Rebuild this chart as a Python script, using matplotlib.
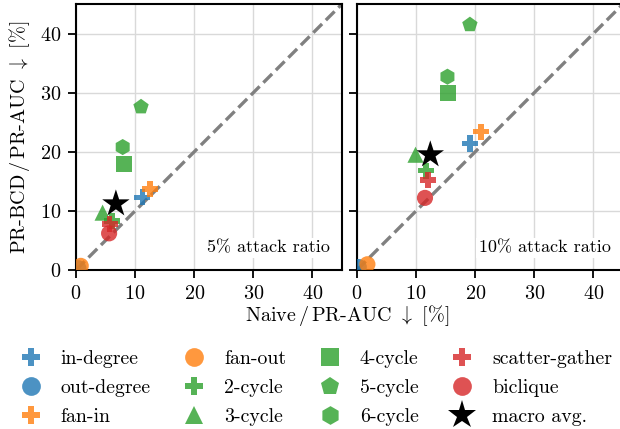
import matplotlib
matplotlib.use("Agg")
import matplotlib.pyplot as plt
from matplotlib.lines import Line2D

plt.rcParams['font.family'] = ['cmr10', 'DejaVu Serif']
plt.rcParams['mathtext.fontset'] = 'cm'
plt.rcParams['axes.formatter.use_mathtext'] = True

# ---- data ----
patterns = ["in-degree", "out-degree", "fan-in", "fan-out", "2-cycle", "3-cycle",
            "4-cycle", "5-cycle", "6-cycle", "scatter-gather", "biclique"]
markers = ["P", "o", "P", "o", "P", "^", "s", "p", "h", "P", "o"]
colors = ["tab:blue", "tab:blue", "tab:orange", "tab:orange", "tab:green", "tab:green",
          "tab:green", "tab:green", "tab:green", "tab:red", "tab:red"]

# 5% attack ratio
naive_5 = [11.2, 0.4, 12.5, 0.8, 6.1, 4.5, 8.05, 11.0, 7.9, 5.7, 5.6]
prbcd_5 = [12.3, 0.3, 13.7, 0.7, 8.3, 9.7, 17.9, 27.6, 20.8, 7.8, 6.2]
macro_5 = (6.75, 11.2)

# 10% attack ratio
naive_10 = [19.1, 0.3, 21.0, 1.76, 11.7, 9.9, 15.4, 19.1, 15.3, 12.0, 11.5]
prbcd_10 = [21.4, 0.5, 23.4, 0.97, 16.8, 19.5, 29.9, 41.5, 32.7, 15.2, 12.2]
macro_10 = (12.4, 19.5)

ticks = [0, 10, 20, 30, 40]
panel_labels = ["5% attack ratio", "10% attack ratio"]

# ---- figure ----
W, H = 620, 429
fig = plt.figure(figsize=(W / 100, H / 100), dpi=100)
ax_w = (342 - 76) / W
ax_h = (270 - 4) / H
ax_b = 1 - 270 / H
ax1 = fig.add_axes([76 / W, ax_b, ax_w, ax_h])
ax2 = fig.add_axes([357 / W, ax_b, ax_w, ax_h])

panels = [(ax1, naive_5, prbcd_5, macro_5), (ax2, naive_10, prbcd_10, macro_10)]
for i, (ax, xs, ys, mac) in enumerate(panels):
    ax.set_xlim(0, 45)
    ax.set_ylim(0, 45)
    ax.set_xticks(ticks)
    ax.set_yticks(ticks)
    ax.grid(True, color='#d9d9d9', lw=1.0, zorder=0)
    ax.set_axisbelow(True)
    ax.plot([0, 45], [0, 45], ls='--', color='#808080', lw=2.4, zorder=1.5)
    for x, y, m, c in zip(xs, ys, markers, colors):
        ax.scatter([x], [y], marker=m, color=c, alpha=0.8, s=135,
                   edgecolors='none', zorder=3)
    ax.scatter([mac[0]], [mac[1]], marker='*', color='black', s=430,
               edgecolors='none', zorder=4)
    for sp in ax.spines.values():
        sp.set_linewidth(1.5)
        sp.set_color('black')
    ax.tick_params(direction='out', length=5.5, width=1.3, labelsize=14.5, pad=5,
                   color='black')
    ax.text(0.955, 0.083, panel_labels[i], transform=ax.transAxes, ha='right',
            va='center', fontsize=13,
            bbox=dict(facecolor='white', edgecolor='none', pad=2), zorder=5)

ax2.tick_params(labelleft=False)
ax1.set_ylabel(r"PR-BCD$\,$/$\,$PR-AUC $\downarrow$ [%]", fontsize=14.5, labelpad=6)
fig.text(347 / W, 1 - 315 / H, r"Naive$\,$/$\,$PR-AUC $\downarrow$ [%]",
         ha='center', va='center', fontsize=14.5)

handles = []
for p, m, c in zip(patterns, markers, colors):
    handles.append(Line2D([], [], ls='none', marker=m, color=c, alpha=0.8,
                          markersize=13.5, markeredgewidth=0, label=p))
handles.append(Line2D([], [], ls='none', marker='*', color='black',
                      markersize=21, markeredgewidth=0, label="macro avg."))
fig.legend(handles=handles, ncol=4, frameon=False, fontsize=14.3,
           loc='upper left', bbox_to_anchor=(13 / W, 1 - 342 / H),
           handlelength=1.0, handletextpad=1.0, columnspacing=1.7,
           labelspacing=0.55, borderaxespad=0)

fig.savefig("out.png", dpi=100)
